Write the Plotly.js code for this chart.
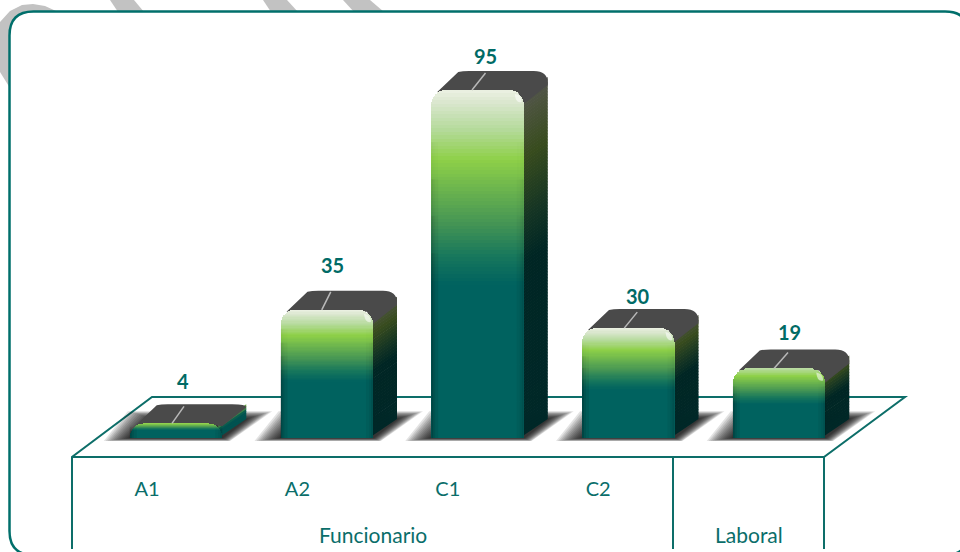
<!DOCTYPE html>
<html><head><meta charset="utf-8">
<script src="https://cdn.plot.ly/plotly-3.0.1.min.js"></script>
<style>html,body{margin:0;padding:0;background:#fff}#c{width:960px;height:552px}</style></head>
<body><div id="c"></div>
<script>
const categories = ["A1","A2","C1","C2",""];
const barNames = ["A1","A2","C1","C2","Laboral"];
const groups = ["Funcionario","Laboral"];
const values = [4,35,95,30,19];

// style constants
const W=960,H=552;
const pxX=150.75,pxY=3.663;
const xRange=[2-477.5/pxX,2+(W-477.5)/pxX];
const yRange=[-(H-438)/pxY,438/pxY];
const bw=92.5/pxX, dx=24/pxX, dy=19/pxY;
const line="#0d6e69",textCol="#0a6e6a";
const labelNudge=[[7,-41],[5.5,-44],[7.5,-33],[10,-31],[10,-35]];
const leader=[[-4,12,17],[-5,9,18],[-5.5,13.5,17],[-4,13,16],[-5,14,16]];
const fmt=c=>`rgb(${c.map(Math.round).join(",")})`;
function ramp(st,f){for(let i=1;i<st.length;i++){if(f<=st[i][0]){const a=st[i-1],b=st[i],t=(f-a[0])/(b[0]-a[0]);return [0,1,2].map(k=>a[1][k]+(b[1][k]-a[1][k])*t);}}return st[st.length-1][1];}
const frontStops=[[0,[0,98,95]],[.44,[0,98,95]],[.52,[22,118,92]],[.62,[70,150,84]],[.8,[142,208,72]],[.885,[180,218,154]],[.96,[216,230,204]],[1,[236,241,228]]];
const sideStops=[[0,[0,40,40]],[.5,[0,38,36]],[.62,[20,52,36]],[.8,[56,76,30]],[.93,[76,84,62]],[1,[84,84,84]]];
const capFor=v=>v>=30?1:(v>=15?.9:.82);
const N=100;

const traces=[];
for(let b=0;b<N;b++){
  const f0=b/N,f1=(b+1)/N;
  traces.push({type:"bar",x:values.map((_,i)=>i),y:values.map(v=>v*(f1-f0)),width:bw,
    marker:{color:values.map(v=>fmt(ramp(frontStops,(f0+f1)/2*capFor(v)))),line:{width:0}},hoverinfo:"skip",showlegend:false,text:barNames,textposition:"none"});
}
traces.push({type:"scatter",xaxis:"x2",yaxis:"y",x:[0,1,2,3],y:[0,0,0,0],mode:"none",hoverinfo:"skip",showlegend:false});

const shapes=[];
const P=(path,fill,layer)=>shapes.push({type:"path",xref:"x",yref:"y",path,fillcolor:fill,layer:layer||"below",line:{width:0}});
const PX=(px)=>px/pxX, PY=(px)=>px/pxY;

// grey stripes and corner behind the frame
const paperPath=(d,fill)=>shapes.push({type:"path",xref:"paper",yref:"paper",path:d,fillcolor:fill,layer:"below",line:{width:0}});
const X=p=>(p/W).toFixed(5),Y=p=>(1-p/H).toFixed(5);
const poly=pts=>"M"+pts.map(p=>X(p[0])+","+Y(p[1])).join(" L")+" Z";
const grey="#c2c2c2";
paperPath(poly([[110,0],[134,0],[144,12],[118,12]]),grey);
paperPath(poly([[263,0],[287,0],[298,12],[271,12]]),grey);
paperPath(poly([[343,0],[370,0],[384,12],[354,12]]),grey);
paperPath(poly([[0,22],[10,11],[22,5],[33,4],[45,6],[56,11],[30,14],[14,24],[10,40],[10,88],[0,72]]),grey);
// frame
const R=24,fl=9.5,ft=11.5,fr=969,fb=555;
paperPath(`M${X(fl+R)},${Y(ft)} L${X(fr-R)},${Y(ft)} Q${X(fr)},${Y(ft)} ${X(fr)},${Y(ft+R)} L${X(fr)},${Y(fb-R)} Q${X(fr)},${Y(fb)} ${X(fr-R)},${Y(fb)} L${X(fl+R)},${Y(fb)} Q${X(fl)},${Y(fb)} ${X(fl)},${Y(fb-R)} L${X(fl)},${Y(ft+R)} Q${X(fl)},${Y(ft)} ${X(fl+R)},${Y(ft)} Z`,"#ffffff");
shapes[shapes.length-1].line={width:2.5,color:"#006f6b"};

// floor and table
const L=(pts)=>shapes.push({type:"path",xref:"paper",yref:"paper",layer:"below",path:"M"+pts.map(p=>X(p[0])+","+Y(p[1])).join(" L"),line:{width:2,color:line}});
L([[72,549],[72,457],[152,397],[905,397],[824,457],[72,457]]);
L([[824,457],[824,549]]);
L([[673,457],[673,549]]);

// bar depth and shadows
values.forEach((v,i)=>{
  const xl=i-bw/2,xr=i+bw/2;
  for(let g=26;g>=2;g-=2){
    P(`M${xl-PX(g)},${-PY(g*.12)} L${xr+PX(g*.3)},${-PY(g*.12)} L${xr+dx+PX(g)},${dy+PY(g*.3)} L${xl+dx-PX(g)},${dy+PY(g*.3)} Z`,"rgba(0,0,0,.11)");
  }
  const small=v*pxY<30;
  const s=small?v:Math.max(v-PY(6),v*0.4);
  const M=Math.max(6,Math.ceil(s*pxY/3));
  for(let b=0;b<M;b++){
    const a0=s*b/M,a1=s*(b+1)/M+(b<M-1?.2:0),f=(a0+a1)/2/v;
    const c=small?ramp(frontStops,f*.8).map(k=>k*.85):ramp(sideStops,f);
    P(`M${xr-PX(4)},${a0} L${xr+dx},${a0+dy} L${xr+dx},${a1+dy} L${xr-PX(4)},${a1} Z`,fmt(c));
  }
  const r=PX(14),rY=PY(12),capB=small?v:Math.max(v-PY(14),PY(2));
  P(`M${xl+PX(6)},${v-PY(2)} L${xl+dx+PX(3)},${v+dy-PY(1)} Q${xl+dx+PX(7)},${v+dy} ${xl+dx+PX(14)},${v+dy} L${xr+dx-r},${v+dy} Q${xr+dx},${v+dy} ${xr+dx},${small?v+dy-PY(3):v+dy-rY} L${xr+dx},${small?v+dy-PY(3):capB+dy} L${xr},${small?v-PY(3):capB} L${xr-PX(6)},${v-PY(2)} Z`,"#4a4a4a");
});

// edge shading on the front faces
values.forEach((v,i)=>{
  const xl=i-bw/2,xr=i+bw/2,S=8;
  for(let k=0;k<S;k++){
    const a=v*.85*k/S,b=v*.85*(k+1)/S,mid=(a+b)/2/(v*.85),fade=mid<.55?1:Math.max(0,1-(mid-.55)/.45);
    [[0,2,.28],[2,4,.16],[4,7,.08]].forEach(([p,q,o])=>{
      shapes.push({type:"rect",xref:"x",yref:"y",layer:"above",x0:xl+PX(p),x1:xl+PX(q),y0:a,y1:b,fillcolor:`rgba(0,0,0,${o*fade})`,line:{width:0}});
      shapes.push({type:"rect",xref:"x",yref:"y",layer:"above",x0:xr-PX(q),x1:xr-PX(p),y0:a,y1:b,fillcolor:`rgba(0,0,0,${o*.6*fade})`,line:{width:0}});
    });
  }
  if(v*pxY>30) shapes.push({type:"path",xref:"x",yref:"y",layer:"above",fillcolor:"rgba(255,255,255,.55)",line:{width:0},
    path:`M${xr-PX(9)},${v-PY(4)} Q${xr-PX(2)},${v-PY(5)} ${xr-PX(2)},${v-PY(12)} Q${xr-PX(8)},${v-PY(14)} ${xr-PX(9)},${v-PY(4)} Z`});
  shapes.push({type:"line",xref:"x",yref:"y",layer:"above",x0:i+PX(leader[i][0]),x1:i+PX(leader[i][0]+leader[i][1]),y0:v,y1:v+PY(leader[i][2]),line:{width:1.5,color:"#b9b9b9"}});
});

const annotations=values.map((v,i)=>({xref:"x",yref:"y",x:i+PX(labelNudge[i][0]),y:v,yshift:-labelNudge[i][1]+1,xanchor:"center",yanchor:"middle",text:"<b>"+v+"</b>",showarrow:false,
  font:{family:"Lato",size:20,color:"#006b66"}}));
[[groups[0],372.5],[groups[1],748.5]].forEach(([t,px])=>annotations.push({xref:"paper",yref:"paper",x:px/W,y:1-534/H,xanchor:"center",yanchor:"middle",text:t,showarrow:false,font:{family:"Lato",size:21,color:textCol}}));

const layout={width:W,height:H,margin:{l:0,r:0,t:0,b:0},showlegend:false,barmode:"stack",barcornerradius:14,
 paper_bgcolor:"#fff",plot_bgcolor:"rgba(0,0,0,0)",
 xaxis:{range:xRange,domain:[0,1],visible:false,fixedrange:true},
 yaxis:{range:yRange,domain:[0,1],visible:false,fixedrange:true},
 xaxis2:{overlaying:"x",anchor:"free",position:1-475/H,range:[-147/150.4,(W-147)/150.4],side:"bottom",tickmode:"array",tickvals:[0,1,2,3],ticktext:categories.slice(0,4),
   showgrid:false,zeroline:false,showline:false,ticks:"",ticklen:0,tickfont:{family:"Lato",size:20,color:textCol}},
 shapes,annotations};
Plotly.newPlot("c",traces,layout,{displayModeBar:false,staticPlot:true});
</script></body></html>
